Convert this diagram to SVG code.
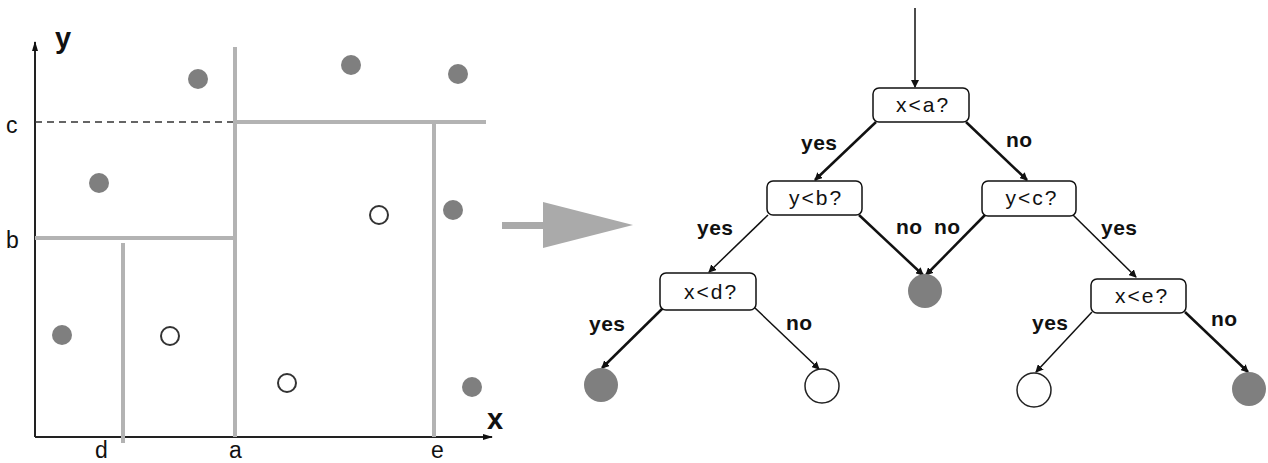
<svg xmlns="http://www.w3.org/2000/svg" width="1268" height="463" viewBox="0 0 1268 463">
<style>
.ax{stroke:#222;stroke-width:2;fill:none}
.split{stroke:#b3b3b3;stroke-width:4;fill:none}
.dot{fill:#7f7f7f}
.odot{fill:#fff;stroke:#333;stroke-width:2}
.lbl{font-family:"Liberation Sans",Arial,sans-serif;font-size:23px;fill:#111}
.big{font-family:"Liberation Sans",Arial,sans-serif;font-size:29px;font-weight:bold;fill:#111}
.box{fill:#fff;stroke:#111;stroke-width:1.5}
.bt{font-family:"Liberation Sans",Arial,sans-serif;font-size:21px;letter-spacing:2px;fill:#111;text-anchor:middle}
.el{font-family:"Liberation Sans",Arial,sans-serif;font-size:21px;font-weight:bold;letter-spacing:0.5px;fill:#111}
.thin{stroke:#111;stroke-width:1.5;fill:none}
.thick{stroke:#111;stroke-width:2.5;fill:none}
.leafF{fill:#7f7f7f}
.leafO{fill:#fff;stroke:#222;stroke-width:1.5}
</style>
<defs>
<marker id="ah" markerWidth="8" markerHeight="8" refX="7" refY="4" orient="auto" markerUnits="userSpaceOnUse">
<path d="M0,0 L8,4 L0,8 Z" fill="#111"/>
</marker>
<marker id="ahs" markerWidth="10" markerHeight="8" refX="9" refY="4" orient="auto" markerUnits="userSpaceOnUse">
<path d="M0,1 L10,4 L0,7 Z" fill="#111"/>
</marker>
</defs>
<rect width="1268" height="463" fill="#fff"/>

<g id="plot">
<line class="ax" x1="35" y1="437" x2="35" y2="42" marker-end="url(#ahs)"/>
<line class="ax" x1="35" y1="437" x2="492" y2="437" marker-end="url(#ahs)"/>
<text class="big" x="55" y="48">y</text>
<text class="big" x="487" y="429">x</text>
<line x1="35" y1="122" x2="235" y2="122" stroke="#333" stroke-width="1.5" stroke-dasharray="7,5"/>
<line class="split" x1="235" y1="47" x2="235" y2="437"/>
<line class="split" x1="235" y1="122" x2="486" y2="122"/>
<line class="split" x1="434" y1="122" x2="434" y2="437"/>
<line class="split" x1="35" y1="238" x2="235" y2="238"/>
<line class="split" x1="123" y1="243" x2="123" y2="443"/>
<text class="lbl" x="6" y="133">c</text>
<text class="lbl" x="6" y="248">b</text>
<text class="lbl" x="95" y="458">d</text>
<text class="lbl" x="229" y="458">a</text>
<text class="lbl" x="431" y="458">e</text>
<circle class="dot" cx="198" cy="79" r="10"/>
<circle class="dot" cx="99" cy="183" r="10"/>
<circle class="dot" cx="351" cy="65" r="10"/>
<circle class="dot" cx="458" cy="74" r="10"/>
<circle class="dot" cx="453" cy="210" r="10"/>
<circle class="dot" cx="62" cy="335" r="10"/>
<circle class="dot" cx="472" cy="387" r="10"/>
<circle class="odot" cx="170" cy="336" r="9"/>
<circle class="odot" cx="287" cy="383" r="9"/>
<circle class="odot" cx="379" cy="215" r="9"/>
</g>

<g id="bigarrow">
<rect x="502" y="222" width="42" height="7" fill="#aaa"/>
<polygon points="543,202 633,225 543,248" fill="#aaa"/>
</g>

<g id="connectors">
<line class="thin" x1="915" y1="8" x2="915" y2="87" marker-end="url(#ah)"/>
<line class="thick" x1="876" y1="122" x2="815" y2="180" marker-end="url(#ah)"/>
<line class="thick" x1="966" y1="122" x2="1027" y2="180" marker-end="url(#ah)"/>
<line class="thin" x1="768" y1="215" x2="709" y2="272" marker-end="url(#ah)"/>
<line class="thick" x1="859" y1="215" x2="923" y2="275" marker-end="url(#ah)"/>
<line class="thick" x1="985" y1="215" x2="926" y2="275" marker-end="url(#ah)"/>
<line class="thin" x1="1073" y1="215" x2="1136" y2="277" marker-end="url(#ah)"/>
<line class="thick" x1="663" y1="308" x2="602" y2="368" marker-end="url(#ah)"/>
<line class="thin" x1="755" y1="308" x2="819" y2="369" marker-end="url(#ah)"/>
<line class="thin" x1="1092" y1="312" x2="1036" y2="372" marker-end="url(#ah)"/>
<line class="thick" x1="1185" y1="312" x2="1248" y2="372" marker-end="url(#ah)"/>
<text class="el" x="801" y="150">yes</text>
<text class="el" x="1006" y="147">no</text>
<text class="el" x="697" y="235">yes</text>
<text class="el" x="896" y="234">no</text>
<text class="el" x="934" y="234">no</text>
<text class="el" x="1101" y="235">yes</text>
<text class="el" x="589" y="331">yes</text>
<text class="el" x="786" y="330">no</text>
<text class="el" x="1032" y="330">yes</text>
<text class="el" x="1211" y="326">no</text>
</g>

<g id="n_xa"><rect class="box" x="873" y="88" width="96" height="34" rx="6"/><text class="bt" x="923" y="112">x&lt;a?</text></g>
<g id="n_yb"><rect class="box" x="767" y="181" width="95" height="34" rx="6"/><text class="bt" x="816" y="205">y&lt;b?</text></g>
<g id="n_yc"><rect class="box" x="982" y="181" width="94" height="35" rx="6"/><text class="bt" x="1032" y="205">y&lt;c?</text></g>
<g id="n_xd"><rect class="box" x="660" y="273" width="96" height="37" rx="6"/><text class="bt" x="711" y="299">x&lt;d?</text></g>
<g id="n_xe"><rect class="box" x="1091" y="279" width="95" height="34" rx="6"/><text class="bt" x="1142" y="303">x&lt;e?</text></g>
<g id="leaf1"><circle class="leafF" cx="601" cy="385" r="17"/></g>
<g id="leaf2"><circle class="leafO" cx="822" cy="386" r="17"/></g>
<g id="leaf3"><circle class="leafF" cx="925" cy="291" r="17"/></g>
<g id="leaf4"><circle class="leafO" cx="1034" cy="390" r="17"/></g>
<g id="leaf5"><circle class="leafF" cx="1249" cy="389" r="17"/></g>
</svg>
